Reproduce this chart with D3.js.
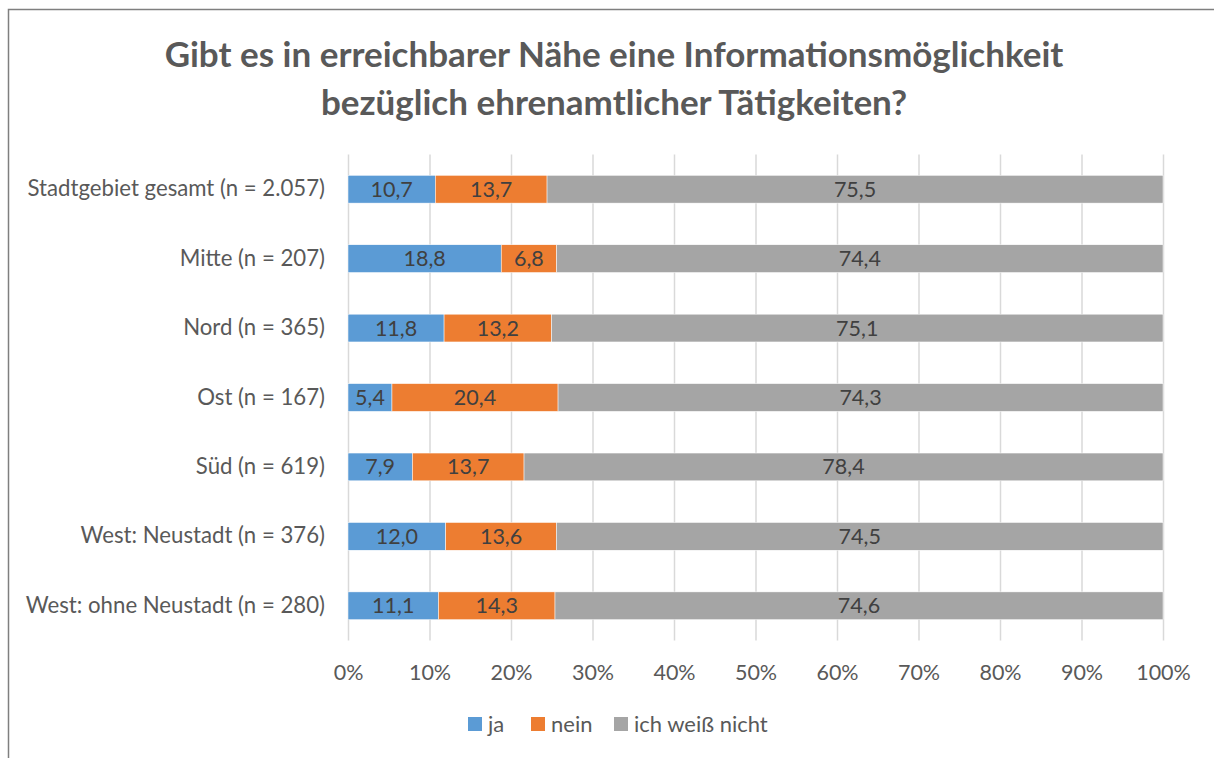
<!DOCTYPE html>
<html><head><meta charset="utf-8">
<script src="https://cdn.jsdelivr.net/npm/d3@7"></script>
<style>body{margin:0;background:#fff;} svg{display:block;font-family:Lato,"Open Sans",sans-serif;}</style>
</head><body>
<svg id="c" width="1214" height="758"></svg>
<script>
const categories = ["Stadtgebiet gesamt (n = 2.057)","Mitte (n = 207)","Nord (n = 365)","Ost (n = 167)","Süd (n = 619)","West: Neustadt (n = 376)","West: ohne Neustadt (n = 280)"];
const seriesNames = ["ja","nein","ich weiß nicht"];
const ja = [10.7,18.8,11.8,5.4,7.9,12.0,11.1];
const nein = [13.7,6.8,13.2,20.4,13.7,13.6,14.3];
const weissNicht = [75.5,74.4,75.1,74.3,78.4,74.5,74.6];
const tickValues = [0,10,20,30,40,50,60,70,80,90,100];
const titleLines = ["Gibt es in erreichbarer Nähe eine Informationsmöglichkeit","bezüglich ehrenamtlicher Tätigkeiten?"];
const colors = ["#5B9BD5","#ED7D31","#A5A5A5"];
const FONT = "Lato,'Open Sans',sans-serif";
const FS = 21.5;

const svg = d3.select("#c");
svg.append("rect").attr("x",8.5).attr("y",9.5).attr("width",1300).attr("height",1000)
  .attr("fill","none").attr("stroke","#7f7f7f").attr("stroke-width",1.5);

const x = d3.scaleLinear().domain([0,100]).range([348,1163]);
const y = d3.scaleBand().domain(categories).range([154.5,640.5]).paddingInner(0.6).paddingOuter(0.3);

svg.append("text").attr("text-anchor","middle").attr("fill","#595959")
  .attr("font-size",35).attr("font-weight","bold")
  .selectAll("tspan").data(titleLines).join("tspan")
  .attr("x",614).attr("y",(d,i)=>67+i*48).text(d=>d);

svg.append("g").selectAll("line").data(tickValues).join("line")
  .attr("x1",d=>x(d)+0.5).attr("x2",d=>x(d)+0.5).attr("y1",154.5).attr("y2",640.5)
  .attr("stroke","#D9D9D9").attr("stroke-width",1.5);

const xAxis = d3.axisBottom(x).tickValues(tickValues).tickFormat(d=>d+"%").tickSize(0).tickPadding(0);
const gx = svg.append("g").attr("transform","translate(0,640)").call(xAxis);
gx.select(".domain").remove();
gx.selectAll("text").attr("font-size",FS).attr("fill","#595959").attr("font-family",FONT).attr("dy",0).attr("y",40);

const yAxis = d3.axisLeft(y).tickSize(0).tickPadding(0);
const gy = svg.append("g").attr("transform","translate(325,0)").call(yAxis);
gy.select(".domain").remove();
gy.selectAll("text").attr("font-size",22.2).attr("fill","#595959").attr("font-family",FONT);

const rows = categories.map((c,i)=>({cat:c, ja:ja[i], nein:nein[i], weiss:weissNicht[i]}));
const keys = ["ja","nein","weiss"];
const layers = d3.stack().keys(keys).offset(d3.stackOffsetExpand)(rows);

const g = svg.append("g");
layers.forEach((layer,li)=>{
  const lg = g.append("g");
  lg.selectAll("rect").data(layer).join("rect")
    .attr("x",d=>x(d[0]*100)).attr("width",d=>x(d[1]*100)-x(d[0]*100))
    .attr("y",d=>y(d.data.cat)).attr("height",y.bandwidth())
    .attr("fill",colors[li]).attr("stroke","#fff").attr("stroke-width",0.5);
  lg.selectAll("text").data(layer).join("text")
    .attr("x",d=>(x(d[0]*100)+x(d[1]*100))/2).attr("y",d=>y(d.data.cat)+y.bandwidth()/2)
    .attr("dy","0.35em").attr("text-anchor","middle").attr("font-size",FS).attr("fill","#404040")
    .text(d=>d3.format(".1f")(d.data[keys[li]]).replace(".",","));
});

const legX = [468,531,614];
const leg = svg.append("g");
seriesNames.forEach((s,i)=>{
  leg.append("rect").attr("x",legX[i]).attr("y",717).attr("width",14).attr("height",14).attr("fill",colors[i]);
  leg.append("text").attr("x",legX[i]+20).attr("y",724).attr("dy","0.35em").attr("font-size",22).attr("fill","#595959").text(s);
});
</script>
</body></html>
